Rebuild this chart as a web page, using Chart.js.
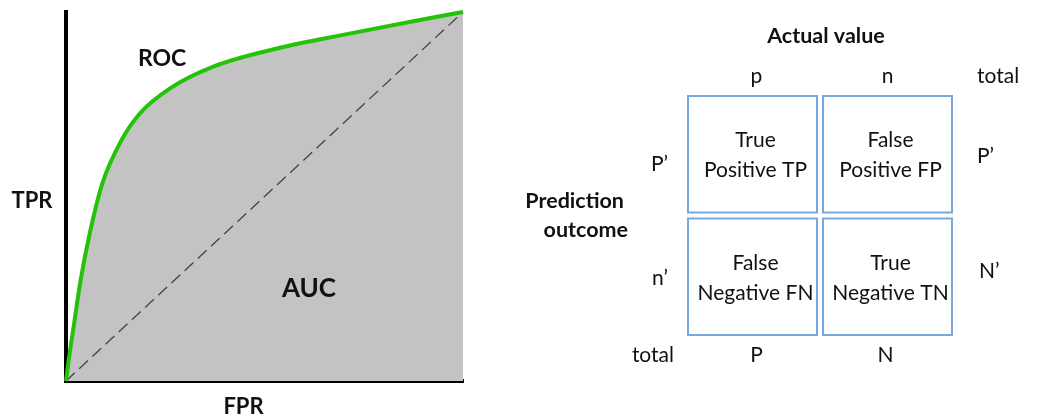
<!DOCTYPE html>
<html><head><meta charset="utf-8">
<script src="https://cdn.jsdelivr.net/npm/chart.js@4.4.1/dist/chart.umd.min.js"></script>
<style>
html,body{margin:0;padding:0;background:#fff;}
#wrap{position:relative;width:1037px;height:416px;overflow:hidden;background:#fff;}
#roc{position:absolute;left:0;top:0;width:480px;height:416px;}
#cm{position:absolute;left:480px;top:0;width:557px;height:416px;}
</style></head><body>
<div id="wrap"><div id="roc"><canvas id="c1" width="480" height="416"></canvas></div><div id="cm"><canvas id="c2" width="557" height="416"></canvas></div></div>
<script>
// ROC curve
const fprValues = [0, 0.007, 0.018, 0.037, 0.060, 0.092, 0.140, 0.186, 0.262, 0.371, 0.539, 0.707, 0.875, 1];
const tprValues = [0, 0.058, 0.138, 0.274, 0.401, 0.537, 0.653, 0.725, 0.793, 0.852, 0.903, 0.940, 0.975, 1];
const diagX = [0, 1];
const diagY = [0, 1];
const rocLabels = ['ROC', 'AUC', 'TPR', 'FPR'];

// Confusion matrix
const colLabels = ['p', 'n'];
const rowLabels = ['P’', 'n’'];
const rowTotals = ['P’', 'N’'];
const colTotals = ['P', 'N'];
const totalLabel = 'total';
const actualTitle = 'Actual value';
const predTitle = ['Prediction', 'outcome'];
const cellLines = [
  [['True', 'Positive TP'], ['False', 'Positive FP']],
  [['False', 'Negative FN'], ['True', 'Negative TN']]
];

const FONT = 'Lato, "Open Sans", sans-serif';
const TXT = '#111111';

const rocText = {
  id: 'rocText',
  afterDraw(chart) {
    const {ctx, scales: {x, y}, chartArea: ca} = chart;
    ctx.save();
    ctx.fillStyle = TXT;
    ctx.textAlign = 'center';
    ctx.textBaseline = 'alphabetic';
    ctx.font = 'bold 23px ' + FONT;
    ctx.fillText(rocLabels[0], x.getPixelForValue(0.242), y.getPixelForValue(0.853));
    ctx.font = 'bold 26px ' + FONT;
    ctx.fillText(rocLabels[1], x.getPixelForValue(0.612), y.getPixelForValue(0.228));
    ctx.font = 'bold 22px ' + FONT;
    ctx.fillText(rocLabels[2], 32, (ca.top + ca.bottom) / 2 + 11);
    ctx.fillText(rocLabels[3], (ca.left + ca.right) / 2 - 21, ca.bottom + 33);
    ctx.restore();
  }
};

new Chart(document.getElementById('c1'), {
  type: 'line',
  data: {
    datasets: [
      {
        label: 'ROC',
        data: fprValues.map((v, i) => ({x: v, y: tprValues[i]})),
        borderColor: '#24c30a',
        borderWidth: 4,
        backgroundColor: '#c3c3c3',
        fill: 'start',
        pointRadius: 0,
        cubicInterpolationMode: 'monotone',
        order: 0
      },
      {
        label: 'Random',
        data: diagX.map((v, i) => ({x: v, y: diagY[i]})),
        borderColor: '#444444',
        borderWidth: 1.3,
        borderDash: [12, 6],
        pointRadius: 0,
        fill: false,
        order: 1
      }
    ]
  },
  options: {
    responsive: false,
    animation: false,
    devicePixelRatio: 1,
    clip: false,
    layout: {padding: {left: 66, top: 12, right: 17, bottom: 35}},
    plugins: {legend: {display: false}, tooltip: {enabled: false}, filler: {drawTime: 'beforeDatasetsDraw'}},
    scales: {
      x: {type: 'linear', min: 0, max: 1, ticks: {display: false},
          grid: {display: false, drawTicks: false}, border: {display: true, color: '#000', width: 4}},
      y: {type: 'linear', min: 0, max: 1, ticks: {display: false},
          grid: {display: false, drawTicks: false}, border: {display: true, color: '#000', width: 4}}
    }
  },
  plugins: [rocText]
});

const matrixPlugin = {
  id: 'matrix',
  afterDraw(chart) {
    const {ctx, scales: {x, y}, chartArea: ca} = chart;
    ctx.save();
    ctx.strokeStyle = '#7ba8dc';
    ctx.lineWidth = 2;
    const d = 3;
    for (let r = 0; r < rowLabels.length; r++) {
      for (let c = 0; c < colLabels.length; c++) {
        const x0 = x.getPixelForValue(c), x1 = x.getPixelForValue(c + 1);
        const y0 = y.getPixelForValue(r), y1 = y.getPixelForValue(r + 1);
        ctx.strokeRect(x0 + d, y0 + d, x1 - x0 - 2 * d, y1 - y0 - 2 * d);
        const cx = (x0 + x1) / 2 + 3, cy = (y0 + y1) / 2;
        ctx.fillStyle = TXT;
        ctx.textAlign = 'center';
        ctx.textBaseline = 'alphabetic';
        ctx.font = '21px ' + FONT;
        ctx.fillText(cellLines[r][c][0], cx, cy - 7);
        ctx.fillText(cellLines[r][c][1], cx, cy + 23);
      }
    }
    ctx.fillStyle = TXT;
    ctx.textBaseline = 'alphabetic';
    ctx.font = '21px ' + FONT;
    // column headers and totals
    ctx.textAlign = 'center';
    colLabels.forEach((t, c) => ctx.fillText(t, x.getPixelForValue(c + 0.5) + (c ? 0 : 4), ca.top - 10));
    colTotals.forEach((t, c) => ctx.fillText(t, x.getPixelForValue(c + 0.5) + (c ? -2 : 4), ca.bottom + 24));
    ctx.textAlign = 'left';
    ctx.fillText(totalLabel, ca.right + 22, ca.top - 10);
    ctx.fillText(rowTotals[0], ca.right + 22, y.getPixelForValue(0.5) + 9);
    ctx.fillText(rowTotals[1], ca.right + 24, y.getPixelForValue(1.5) + 1);
    ctx.textAlign = 'right';
    ctx.fillText(rowLabels[0], ca.left - 17, y.getPixelForValue(0.5) + 17);
    ctx.fillText(rowLabels[1], ca.left - 17, y.getPixelForValue(1.5) + 8);
    ctx.fillText(totalLabel, ca.left - 11, ca.bottom + 24);
    // titles
    ctx.font = 'bold 21.5px ' + FONT;
    ctx.textAlign = 'center';
    ctx.fillText(actualTitle, (ca.left + ca.right) / 2 + 6, 43);
    ctx.textAlign = 'right';
    ctx.fillText(predTitle[0], ca.left - 61, y.getPixelForValue(1) - 8);
    ctx.fillText(predTitle[1], ca.left - 57, y.getPixelForValue(1) + 21);
    ctx.restore();
  }
};

new Chart(document.getElementById('c2'), {
  type: 'scatter',
  data: {datasets: []},
  options: {
    responsive: false,
    animation: false,
    devicePixelRatio: 1,
    layout: {padding: {left: 205, top: 93, right: 82, bottom: 78}},
    plugins: {legend: {display: false}, tooltip: {enabled: false}},
    scales: {
      x: {type: 'linear', min: 0, max: colLabels.length, display: false},
      y: {type: 'linear', min: 0, max: rowLabels.length, reverse: true, display: false}
    }
  },
  plugins: [matrixPlugin]
});
</script>
</body></html>
